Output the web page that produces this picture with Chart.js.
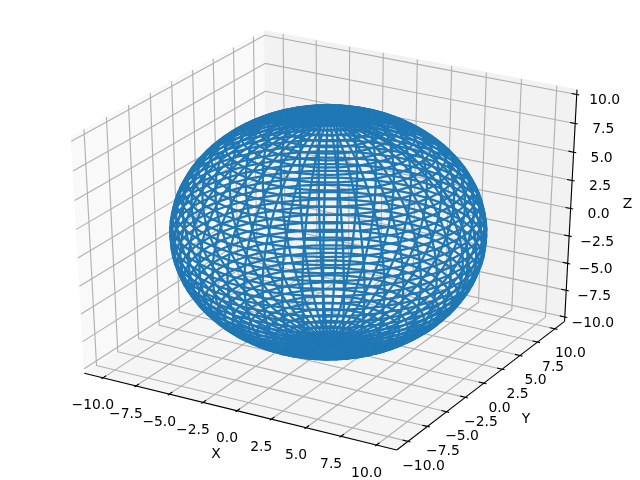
<!DOCTYPE html>
<html>
<head>
<meta charset="utf-8">
<style>
  html, body { margin: 0; padding: 0; background: #ffffff; }
  canvas { display: block; }
</style>
<script src="https://cdn.jsdelivr.net/npm/chart.js@4"></script>
</head>
<body>
<canvas id="chart" width="640" height="480"></canvas>
<script>
// Wireframe lines, as angles on a sphere of radius 10.
var SPHERE_RADIUS = 10;
var meridianAzimuthDeg = [0, 7.27, 14.55, 21.82, 29.09, 36.36, 43.64, 50.91, 58.18, 65.45, 72.73, 80, 87.27, 94.55, 101.82, 109.09, 116.36, 123.64, 130.91, 138.18, 145.45, 152.73, 160, 167.27, 174.55, 181.82, 189.09, 196.36, 203.64, 210.91, 218.18, 225.45, 232.73, 240, 247.27, 254.55, 261.82, 269.09, 276.36, 283.64, 290.91, 298.18, 305.45, 312.73, 320, 327.27, 334.55, 341.82, 349.09, 356.36, 360];
var ringPolarDeg = [0, 3.64, 7.27, 10.91, 14.55, 18.18, 21.82, 25.45, 29.09, 32.73, 36.36, 40, 43.64, 47.27, 50.91, 54.55, 58.18, 61.82, 65.45, 69.09, 72.73, 76.36, 80, 83.64, 87.27, 90.91, 94.55, 98.18, 101.82, 105.45, 109.09, 112.73, 116.36, 120, 123.64, 127.27, 130.91, 134.55, 138.18, 141.82, 145.45, 149.09, 152.73, 156.36, 160, 163.64, 167.27, 170.91, 174.55, 178.18, 180];

var tickValues = [-10, -7.5, -5, -2.5, 0, 2.5, 5, 7.5, 10];
var tickLabels = ['\u221210.0', '\u22127.5', '\u22125.0', '\u22122.5', '0.0', '2.5', '5.0', '7.5', '10.0'];

// Data limits of the 3D box.
var XY_LIMIT = 10.96;
var Z_LIMIT = 10;

var BLUE = '#1f77b4';
var GRID = '#b0b0b0';
var FONT = '13.9px "DejaVu Sans"';

// Panes and axes stick out 1/48 of the range past the limits.
var XY_EDGE = XY_LIMIT * (1 + 1 / 24);
var Z_EDGE = Z_LIMIT * (1 + 1 / 24);

// View from azimuth -60, elevation 30, camera distance 10 on a unit cube.
function project(x, y, z) {
    var dx = x / (2 * XY_LIMIT);
    var dy = y / (2 * XY_LIMIT);
    var dz = z / (2 * Z_LIMIT);
    var right = 0.8660254 * dx + 0.5 * dy;
    var up = -0.25 * dx + 0.4330127 * dy + 0.8660254 * dz;
    var toward = 0.4330127 * dx - 0.75 * dy + 0.5 * dz;
    var depth = 10 - toward;
    return { x: right / depth, y: up / depth };
}

function path(points) {
    return points.map(function (p) { return project(p[0], p[1], p[2]); });
}

// Tiny tension keeps Chart.js off its fast path, which snaps lines to whole x pixels.
function lineSet(points, color, width) {
    return {
        data: path(points),
        showLine: true,
        borderColor: color,
        borderWidth: width,
        borderJoinStyle: 'round',
        pointRadius: 0,
        tension: 0.0001,
        fill: false
    };
}

function paneSet(points, color) {
    return {
        data: path(points),
        showLine: true,
        borderColor: color,
        borderWidth: 1,
        backgroundColor: color,
        pointRadius: 0,
        tension: 0,
        fill: 'shape'
    };
}

function rad(deg) {
    return deg * Math.PI / 180;
}

function spherePoint(azimuthDeg, polarDeg) {
    return [
        SPHERE_RADIUS * Math.cos(rad(azimuthDeg)) * Math.sin(rad(polarDeg)),
        SPHERE_RADIUS * Math.sin(rad(azimuthDeg)) * Math.sin(rad(polarDeg)),
        SPHERE_RADIUS * Math.cos(rad(polarDeg))
    ];
}

var X = XY_EDGE, Y = XY_EDGE, Z = Z_EDGE;
var TICK_OUT = (2 * XY_LIMIT / 12) * 0.1;
var TICK_IN = (2 * XY_LIMIT / 12) * 0.2;

var layers = [];

// panes: x wall, y wall, floor
layers.push(paneSet([[-X, -Y, -Z], [-X, Y, -Z], [-X, Y, Z], [-X, -Y, Z], [-X, -Y, -Z]], '#f9f9f9'));
layers.push(paneSet([[-X, Y, -Z], [X, Y, -Z], [X, Y, Z], [-X, Y, Z], [-X, Y, -Z]], '#f2f2f2'));
layers.push(paneSet([[-X, -Y, -Z], [X, -Y, -Z], [X, Y, -Z], [-X, Y, -Z], [-X, -Y, -Z]], '#f5f5f5'));

// grid
tickValues.forEach(function (t) {
    layers.push(lineSet([[t, -Y, -Z], [t, Y, -Z], [t, Y, Z]], GRID, 1.11));
    layers.push(lineSet([[X, t, -Z], [-X, t, -Z], [-X, t, Z]], GRID, 1.11));
    layers.push(lineSet([[-X, -Y, t], [-X, Y, t], [X, Y, t]], GRID, 1.11));
});

// axis lines and tick marks
layers.push(lineSet([[-X, -Y, -Z], [X, -Y, -Z]], '#000000', 1.11));
layers.push(lineSet([[X, -Y, -Z], [X, Y, -Z]], '#000000', 1.11));
layers.push(lineSet([[X, Y, -Z], [X, Y, Z]], '#000000', 1.11));
tickValues.forEach(function (t) {
    layers.push(lineSet([[t, -Y - TICK_OUT, -Z], [t, -Y + TICK_IN, -Z]], '#000000', 1.11));
    layers.push(lineSet([[X + TICK_OUT, t, -Z], [X - TICK_IN, t, -Z]], '#000000', 1.11));
    layers.push(lineSet([[X + TICK_OUT, Y, t], [X - TICK_IN, Y, t]], '#000000', 1.11));
});

// wireframe
meridianAzimuthDeg.forEach(function (az) {
    layers.push(lineSet(ringPolarDeg.map(function (p) { return spherePoint(az, p); }), BLUE, 2.3));
});
ringPolarDeg.forEach(function (p) {
    layers.push(lineSet(meridianAzimuthDeg.map(function (az) { return spherePoint(az, p); }), BLUE, 2.3));
});

// Tick labels and axis titles, placed from their projected anchor.
var axisText = {
    id: 'axisText',
    afterDatasetsDraw: function (chart) {
        var ctx = chart.ctx;
        var sx = chart.scales.x;
        var sy = chart.scales.y;
        function put(text, p3, offX, offY) {
            var p = project(p3[0], p3[1], p3[2]);
            ctx.fillText(text, sx.getPixelForValue(p.x) + offX, sy.getPixelForValue(p.y) + offY);
        }
        ctx.save();
        ctx.font = FONT;
        ctx.fillStyle = '#000000';
        ctx.textAlign = 'center';
        ctx.textBaseline = 'middle';
        tickValues.forEach(function (t, i) {
            put(tickLabels[i], [t, -Y, -Z], -10, 28);
            put(tickLabels[i], [X, t, -Z], 15.5, 25);
            put(tickLabels[i], [X, Y, t], 28, 6);
        });
        put('X', [0, -Y, -Z], -21, 44);
        put('Y', [X, 0, -Z], 42, 36);
        put('Z', [X, Y, 0], 57, -4);
        ctx.restore();
    }
};

// Chart.js paints the first dataset last, so hand them over back to front.
new Chart(document.getElementById('chart').getContext('2d'), {
    type: 'scatter',
    data: { datasets: layers.reverse() },
    options: {
        responsive: false,
        animation: false,
        events: [],
        layout: { padding: 0 },
        scales: {
            x: { type: 'linear', display: false, min: -0.09483, max: 0.09003 },
            y: { type: 'linear', display: false, min: -0.09522, max: 0.08968 }
        },
        plugins: {
            legend: { display: false },
            tooltip: { enabled: false }
        }
    },
    plugins: [axisText]
});
</script>
</body>
</html>
